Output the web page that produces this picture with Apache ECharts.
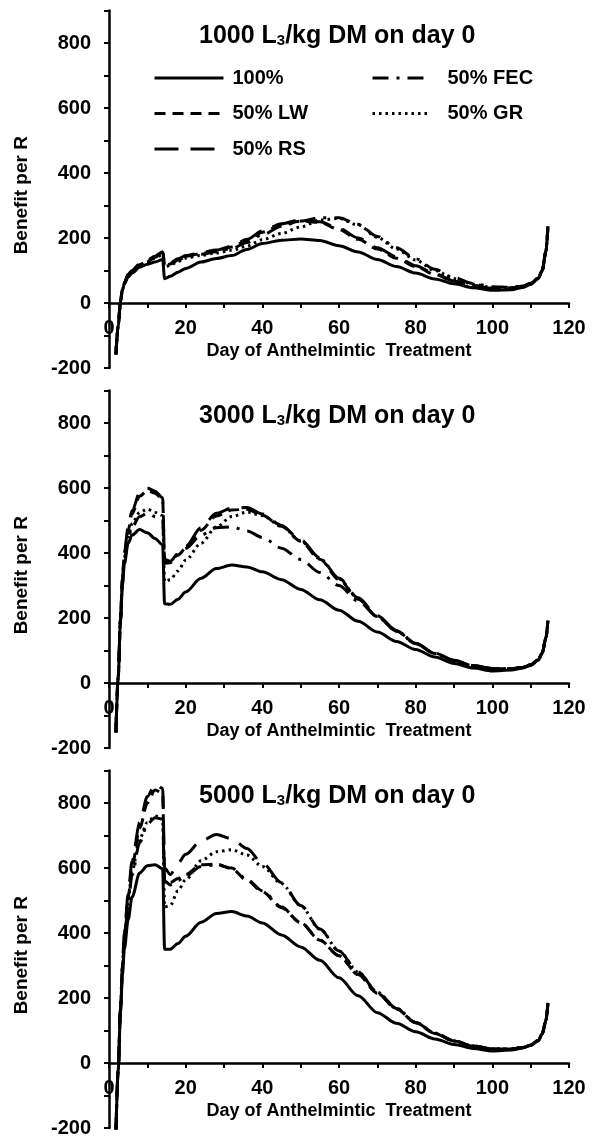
<!DOCTYPE html>
<html>
<head>
<meta charset="utf-8">
<script src="https://cdn.jsdelivr.net/npm/echarts@6/dist/echarts.min.js"></script>
<style>
  html, body { margin: 0; padding: 0; background: #fff; }
  #chart { width: 593px; height: 1140px; }
</style>
</head>
<body>
<div id="chart"></div>
<script>
// day of treatment (x values shared by every curve)
const days = [1.8, 2.4, 3, 3.5, 4, 5, 6, 8, 10, 12, 14, 14.5, 16, 18, 20, 24, 28, 32, 36, 40,
  45, 50, 55, 60, 65, 70, 75, 80, 85, 90, 95, 100, 105, 108, 110, 112, 113, 114, 114.5];

const seriesNames = ['100%', '50% LW', '50% RS', '50% FEC', '50% GR'];
const doses = ['1000', '3000', '5000'];
const xTicks = [0, 20, 40, 60, 80, 100, 120];
const yTicks = [-200, 0, 200, 400, 600, 800];

// 1000 L3/kg DM
const full1000 = [-158, -70, 5, 40, 58, 80, 92, 110, 119, 126, 134, 75, 82, 95, 106, 126, 137, 146, 165, 183, 193, 197, 192, 176, 157, 134, 112, 92, 74, 59, 47, 39, 41, 48, 57, 75, 100, 160, 236];
const lw1000 = [-158, -70, 5, 42, 62, 88, 100, 118, 130, 142, 160, 118, 122, 134, 144, 152, 160, 172, 192, 218, 240, 252, 248, 226, 196, 166, 138, 112, 88, 67, 53, 45, 46, 52, 60, 77, 100, 160, 236];
const rs1000 = [-158, -70, 5, 42, 62, 88, 100, 120, 132, 144, 158, 120, 124, 136, 146, 155, 163, 175, 196, 222, 244, 256, 250, 230, 200, 170, 142, 115, 90, 68, 54, 45, 46, 52, 60, 77, 100, 160, 236];
const fec1000 = [-158, -70, 5, 42, 62, 86, 98, 116, 128, 140, 156, 116, 120, 132, 142, 150, 158, 168, 186, 210, 236, 252, 262, 262, 242, 205, 170, 136, 104, 78, 60, 50, 48, 52, 60, 77, 100, 160, 236];
const gr1000 = [-158, -70, 5, 41, 60, 84, 96, 114, 126, 138, 150, 112, 116, 128, 138, 146, 154, 162, 175, 195, 214, 234, 255, 260, 240, 202, 166, 132, 100, 75, 58, 48, 47, 52, 60, 77, 100, 160, 236];

// 3000 L3/kg DM
const full3000 = [-152, 20, 190, 300, 365, 430, 455, 472, 462, 445, 425, 244, 242, 258, 280, 322, 352, 363, 357, 342, 318, 288, 256, 224, 190, 157, 128, 103, 80, 60, 46, 37, 40, 46, 54, 70, 90, 140, 192];
const lw3000 = [-152, 20, 200, 318, 395, 470, 520, 575, 592, 584, 565, 376, 372, 394, 414, 470, 514, 532, 535, 516, 482, 436, 381, 318, 258, 204, 160, 121, 91, 69, 53, 44, 44, 48, 56, 72, 92, 140, 192];
const rs3000 = [-152, 20, 200, 320, 400, 480, 530, 585, 600, 590, 570, 380, 375, 398, 420, 478, 522, 538, 540, 520, 485, 440, 385, 322, 262, 207, 162, 122, 92, 70, 54, 45, 44, 48, 56, 72, 92, 140, 192];
const fec3000 = [-152, 20, 192, 305, 378, 442, 480, 512, 522, 512, 500, 368, 370, 394, 414, 455, 478, 480, 468, 448, 415, 380, 340, 300, 252, 205, 160, 121, 91, 69, 53, 44, 44, 48, 56, 72, 92, 140, 192];
const gr3000 = [-152, 20, 195, 310, 385, 450, 490, 525, 535, 525, 515, 312, 318, 345, 378, 430, 480, 512, 526, 515, 482, 437, 383, 320, 260, 205, 160, 121, 91, 69, 53, 44, 44, 48, 56, 72, 92, 140, 192];

// 5000 L3/kg DM
const full5000 = [-215, -20, 154, 270, 350, 441, 510, 585, 607, 610, 598, 350, 350, 368, 390, 433, 460, 466, 452, 431, 394, 357, 316, 262, 207, 155, 122, 96, 74, 57, 45, 37, 40, 46, 54, 68, 88, 130, 185];
const lw5000 = [-215, -20, 168, 295, 392, 508, 605, 722, 800, 840, 830, 565, 555, 568, 580, 610, 612, 598, 562, 527, 478, 432, 378, 330, 272, 215, 166, 124, 91, 68, 52, 43, 43, 48, 55, 70, 90, 132, 185];
const rs5000 = [-215, -20, 170, 300, 400, 520, 620, 740, 820, 858, 845, 600, 580, 615, 642, 683, 703, 690, 660, 615, 555, 485, 412, 345, 280, 218, 168, 125, 92, 68, 52, 43, 43, 48, 55, 70, 90, 132, 185];
const fec5000 = [-215, -20, 162, 285, 378, 490, 578, 678, 735, 755, 750, 560, 548, 562, 575, 605, 610, 600, 565, 530, 480, 432, 378, 330, 272, 215, 166, 124, 91, 68, 52, 43, 43, 48, 55, 70, 90, 132, 185];
const gr5000 = [-215, -20, 165, 290, 385, 500, 590, 690, 740, 760, 755, 480, 485, 530, 564, 622, 650, 656, 640, 605, 552, 484, 412, 345, 280, 218, 168, 125, 92, 68, 52, 43, 43, 48, 55, 70, 90, 132, 185];

const panels = [
  [full1000, lw1000, rs1000, fec1000, gr1000],
  [full3000, lw3000, rs3000, fec3000, gr3000],
  [full5000, lw5000, rs5000, fec5000, gr5000]
];

// line dash for each series
const dashTypes = ['solid', [11, 7], [24, 12], [16, 8, 3, 8], [2.5, 4]];

const font = 'Arial, "Liberation Sans", sans-serif';
const PANEL_H = 380;

const grids = [], xAxes = [], yAxes = [], titles = [], series = [];

doses.forEach((dose, i) => {
  grids.push({ left: 109, width: 460, top: 10.5 + PANEL_H * i, height: 357.5 });

  // x axis sits on y = 0, which is 65px above the bottom of the grid
  xAxes.push({
    type: 'value', gridIndex: i, min: 0, max: 120, interval: 10,
    position: 'bottom', offset: -65,
    axisLine: { onZero: false, lineStyle: { color: '#000', width: 2.5 } },
    axisTick: { length: 5, lineStyle: { color: '#000', width: 2 } },
    splitLine: { show: false },
    axisLabel: {
      margin: 15, color: '#000', fontSize: 20, fontWeight: 'bold', fontFamily: font,
      formatter: v => xTicks.includes(v) ? String(v) : ''
    },
    name: 'Day of Anthelmintic  Treatment', nameLocation: 'middle', nameGap: 39,
    nameTextStyle: { color: '#000', fontSize: 18, fontWeight: 'bold', fontFamily: font }
  });

  yAxes.push({
    type: 'value', gridIndex: i, min: -200, max: 900, interval: 100,
    axisLine: { show: true, onZero: false, lineStyle: { color: '#000', width: 2.5 } },
    axisTick: { show: true, length: 5, lineStyle: { color: '#000', width: 2 } },
    splitLine: { show: false },
    axisLabel: {
      margin: 18, color: '#000', fontSize: 20, fontWeight: 'bold', fontFamily: font,
      formatter: v => yTicks.includes(v) ? String(v) : ''
    },
    name: 'Benefit per R', nameLocation: 'middle', nameGap: 78,
    nameTextStyle: { color: '#000', fontSize: 19, fontWeight: 'bold', fontFamily: font, padding: [0, 12, 0, 0] }
  });

  titles.push({
    text: '{a|' + dose + ' L}{s|3}{a|/kg DM on day 0}',
    left: 199, top: 23.5 + PANEL_H * i, padding: 0,
    textStyle: {
      rich: {
        a: { fontSize: 25, fontWeight: 'bold', fontFamily: font, color: '#000', lineHeight: 25, verticalAlign: 'top' },
        s: { fontSize: 15, fontWeight: 'bold', fontFamily: font, color: '#000', lineHeight: 8, verticalAlign: 'bottom' }
      }
    }
  });

  seriesNames.forEach((name, k) => {
    const vals = panels[i][k];
    series.push({
      type: 'line', name: name, xAxisIndex: i, yAxisIndex: i,
      data: days.map((d, j) => [d, vals[j]]),
      symbol: 'none', smooth: 0.3, smoothMonotone: 'x', clip: true,
      lineStyle: { color: '#000', width: 3, type: dashTypes[k] },
      itemStyle: { color: '#000' }
    });
  });
});

const legendText = { color: '#000', fontSize: 20, fontWeight: 'bold', fontFamily: font, lineHeight: 20 };
// hide the marker the legend draws on top of the line sample
const legendMarker = { color: 'rgba(0,0,0,0)', borderWidth: 0, opacity: 0 };

const option = {
  animation: false,
  backgroundColor: '#fff',
  color: ['#000'],
  title: titles,
  legend: [
    {
      data: ['100%', '50% LW', '50% RS'], orient: 'vertical', left: 153, top: 68, padding: 0,
      itemWidth: 69, itemHeight: 14, itemGap: 15.5, selectedMode: false,
      itemStyle: legendMarker, lineStyle: { width: 3, opacity: 1 },
      textStyle: Object.assign({ padding: [0, 0, 0, 4] }, legendText)
    },
    {
      data: ['50% FEC', '50% GR'], orient: 'vertical', left: 371, top: 68, padding: 0,
      itemWidth: 57, itemHeight: 14, itemGap: 15.5, selectedMode: false,
      itemStyle: legendMarker, lineStyle: { width: 3, opacity: 1 },
      textStyle: Object.assign({ padding: [0, 0, 0, 13] }, legendText)
    }
  ],
  grid: grids,
  xAxis: xAxes,
  yAxis: yAxes,
  series: series
};

const myChart = echarts.init(document.getElementById('chart'), null, { renderer: 'canvas' });
myChart.setOption(option);
</script>
</body>
</html>
